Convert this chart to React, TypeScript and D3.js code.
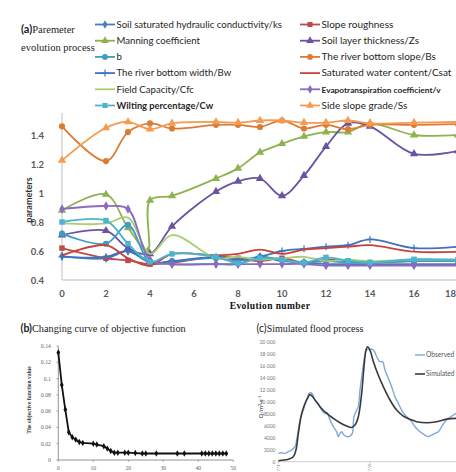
import React from 'react';
import * as d3 from 'd3';

// ---------- (a) parameter evolution ----------
const evolutionSteps = [0, 2, 3, 4, 5, 7, 8, 9, 10, 11, 12, 13, 14, 16, 18];
// the Manning series has one extra sample just before step 4
const manningSteps = [0, 2, 3, 3.9, 4, 5, 7, 8, 9, 10, 11, 12, 13, 14, 16, 18];

const ksValues = [0.565, 0.55, 0.6, 0.53, 0.51, 0.51, 0.51, 0.56, 0.53, 0.52, 0.51, 0.51, 0.51, 0.51, 0.51];
const slopeRoughness = [0.62, 0.55, 0.535, 0.51, 0.52, 0.56, 0.55, 0.53, 0.55, 0.52, 0.54, 0.53, 0.52, 0.53, 0.53];
const manning = [0.88, 0.99, 0.76, 0.6, 0.95, 0.98, 1.1, 1.17, 1.28, 1.34, 1.39, 1.42, 1.42, 1.48, 1.4, 1.4];
const soilThickness = [0.71, 0.74, 0.62, 0.58, 0.77, 1.01, 1.08, 1.1, 0.98, 1.12, 1.32, 1.48, 1.46, 1.27, 1.29];
const bValues = [0.72, 0.65, 0.78, 0.52, 0.53, 0.55, 0.53, 0.56, 0.54, 0.52, 0.53, 0.52, 0.52, 0.53, 0.53];
const riverSlope = [1.46, 1.22, 1.42, 1.48, 1.445, 1.47, 1.47, 1.455, 1.5, 1.445, 1.47, 1.44, 1.47, 1.47, 1.475];
const riverWidth = [0.56, 0.56, 0.6, 0.52, 0.53, 0.56, 0.54, 0.56, 0.6, 0.615, 0.63, 0.64, 0.68, 0.62, 0.63];
const satWater = [0.57, 0.64, 0.55, 0.5, 0.58, 0.57, 0.58, 0.61, 0.58, 0.61, 0.62, 0.63, 0.64, 0.595, 0.595];
const fieldCapacity = [0.79, 0.79, 0.83, 0.58, 0.71, 0.55, 0.56, 0.54, 0.55, 0.56, 0.53, 0.54, 0.53, 0.54, 0.54];
const evapCoef = [0.89, 0.91, 0.89, 0.54, 0.51, 0.51, 0.51, 0.51, 0.51, 0.51, 0.5, 0.5, 0.5, 0.5, 0.5];
const wilting = [0.8, 0.81, 0.65, 0.525, 0.58, 0.56, 0.515, 0.55, 0.54, 0.52, 0.556, 0.533, 0.52, 0.543, 0.54];
const sideSlope = [1.225, 1.45, 1.49, 1.44, 1.48, 1.49, 1.485, 1.5, 1.5, 1.485, 1.485, 1.5, 1.48, 1.485, 1.49];

const paramTicks = [0.4, 0.6, 0.8, 1, 1.2, 1.4];
const stepTicks = [0, 2, 4, 6, 8, 10, 12, 14, 16, 18];

// ---------- (b) objective function ----------
const objIterations = [0, 1, 2, 3, 4, 5, 6, 7, 10, 11, 13, 14, 15, 16, 17, 19, 20, 22, 24, 25, 28, 34, 36, 41, 42, 43, 44, 45, 46, 47, 48];
const objValues = [0.132, 0.092, 0.062, 0.034, 0.028, 0.025, 0.022, 0.021, 0.02, 0.019, 0.017, 0.014, 0.011, 0.009, 0.009, 0.009, 0.009, 0.0085, 0.008, 0.008, 0.008, 0.008, 0.008, 0.008, 0.008, 0.008, 0.008, 0.008, 0.008, 0.008, 0.008];
const objYTicks = [0, 0.02, 0.04, 0.06, 0.08, 0.1, 0.12, 0.14];
const objXTicks = [0, 10, 20, 30, 40, 50];

// ---------- (c) flood hydrograph ----------
const simHours = [0, 7.5, 11.25, 13.25, 15, 17.5, 20, 22.5, 23.75, 25, 27.5, 31.25, 36.25, 41.25, 46.25, 51.25, 55, 57.5, 60, 62.5, 64.25, 65.75, 67, 68.75, 71.25, 75, 78.75, 83.75, 88.75, 93.75, 98.75, 103.75, 111.25, 118.75, 126.25, 133.25];
const simFlow = [170, 390, 830, 1940, 4700, 8000, 9700, 10800, 11200, 11000, 10300, 9170, 8050, 7220, 6500, 5940, 5700, 6100, 7500, 11400, 15800, 18600, 19170, 18600, 16700, 14400, 12500, 10280, 8600, 7600, 7060, 6670, 6500, 6670, 7100, 7220];
const obsHours = [0, 2.5, 5, 7.5, 10, 12.5, 13.75, 15, 16.25, 18.75, 21.25, 23, 24.5, 25.75, 27.5, 30, 32.5, 35, 36.75, 38.25, 41.25, 43.75, 45, 46.25, 47.5, 49.25, 51.25, 53.75, 55.5, 56.75, 58.75, 60, 61.25, 63.25, 65, 66.25, 68.75, 70.75, 72.5, 73.75, 76.25, 78.25, 80, 82.5, 85, 87.5, 90, 92.5, 95, 97.5, 100, 102.5, 106.25, 110, 112.5, 115, 117.5, 120, 122.5, 125, 127.5, 131.25, 133.25];
const obsFlow = [1390, 1500, 1390, 1670, 1940, 2500, 3600, 5280, 6940, 8600, 10280, 11390, 11500, 11200, 10280, 9720, 8600, 8050, 8160, 7220, 5830, 5000, 4170, 4720, 5000, 4440, 4170, 4280, 4720, 7500, 8600, 9170, 11940, 15280, 17780, 18610, 18720, 18720, 18170, 17500, 16670, 16670, 15280, 13890, 12500, 10830, 9720, 8600, 7780, 7220, 6670, 5830, 5000, 4440, 4170, 4440, 4720, 5000, 5830, 6670, 7220, 7780, 8050];
const flowTicks = [0, 2000, 4000, 6000, 8000, 10000, 12000, 14000, 16000, 18000, 20000];
const dateTicks = [{ h: 0, label: '7/1' }, { h: 68.75, label: '7/4' }];

type Marker = 'diamond' | 'square' | 'triangle' | 'circle' | 'plus' | 'none';
interface Series {
  name: string;
  steps: number[];
  values: number[];
  color: string;
  marker: Marker;
  col: number;
  row: number;
  bold?: boolean;
  labelSize?: number;
}

const series: Series[] = [
  { name: 'Soil saturated hydraulic conductivity/ks', steps: evolutionSteps, values: ksValues, color: '#4A7EBB', marker: 'diamond', col: 0, row: 0 },
  { name: 'Slope roughness', steps: evolutionSteps, values: slopeRoughness, color: '#BE4B48', marker: 'square', col: 1, row: 0 },
  { name: 'Manning coefficient', steps: manningSteps, values: manning, color: '#8DB24E', marker: 'triangle', col: 0, row: 1 },
  { name: 'Soil layer thickness/Zs', steps: evolutionSteps, values: soilThickness, color: '#6A53A0', marker: 'triangle', col: 1, row: 1 },
  { name: 'b', steps: evolutionSteps, values: bValues, color: '#3C9DC0', marker: 'circle', col: 0, row: 2 },
  { name: 'The river bottom slope/Bs', steps: evolutionSteps, values: riverSlope, color: '#DB7B34', marker: 'circle', col: 1, row: 2 },
  { name: 'The river bottom width/Bw', steps: evolutionSteps, values: riverWidth, color: '#3D74C0', marker: 'plus', col: 0, row: 3 },
  { name: 'Saturated water content/Csat', steps: evolutionSteps, values: satWater, color: '#C8413C', marker: 'none', col: 1, row: 3 },
  { name: 'Field Capacity/Cfc', steps: evolutionSteps, values: fieldCapacity, color: '#A8CE74', marker: 'none', col: 0, row: 4 },
  { name: 'Evapotranspiration coefficient/v', steps: evolutionSteps, values: evapCoef, color: '#8A6BC0', marker: 'diamond', col: 1, row: 4, bold: true, labelSize: 8.3 },
  { name: 'Wilting percentage/Cw', steps: evolutionSteps, values: wilting, color: '#4BB4D0', marker: 'square', col: 0, row: 5, bold: true, labelSize: 9.3 },
  { name: 'Side slope grade/Ss', steps: evolutionSteps, values: sideSlope, color: '#F59A4E', marker: 'triangle', col: 1, row: 5 },
];

const markerPath = (m: Marker, size: number): string | null => {
  switch (m) {
    case 'diamond':
      return d3.symbol(d3.symbolDiamond, size)();
    case 'square':
      return d3.symbol(d3.symbolSquare, size)();
    case 'triangle':
      return d3.symbol(d3.symbolTriangle, size)();
    case 'circle':
      return d3.symbol(d3.symbolCircle, size)();
    default:
      return null;
  }
};

const MarkerGlyph = ({ m, color, x, y, size }: { m: Marker; color: string; x: number; y: number; size: number }) => {
  if (m === 'none') return null;
  if (m === 'plus') {
    return (
      <g transform={`translate(${x},${y})`} stroke={color} strokeWidth={1.2}>
        <line x1={0} y1={-3.5} x2={0} y2={3.5} />
        <line x1={-3.5} y1={0} x2={3.5} y2={0} />
      </g>
    );
  }
  return <path d={markerPath(m, size) || ''} transform={`translate(${x},${y})`} fill={color} />;
};

export default function App() {
  // panel (a)
  const ax = d3.scaleLinear().domain([0, 18]).range([62, 458]);
  const ay = d3.scaleLinear().domain([0.4, 1.6]).range([280, 106]);
  const smooth = d3
    .line<[number, number]>()
    .x((d) => ax(d[0]))
    .y((d) => ay(d[1]))
    .curve(d3.curveCatmullRom.alpha(0.5));

  // panel (b)
  const bx = d3.scaleLinear().domain([0, 50]).range([58.3, 233.3]);
  const by = d3.scaleLinear().domain([0, 0.14]).range([460, 346]);
  const objLine = d3
    .line<[number, number]>()
    .x((d) => bx(d[0]))
    .y((d) => by(d[1]));

  // panel (c)
  const cx = d3.scaleLinear().domain([0, 133.25]).range([278.3, 456]);
  const cy = d3.scaleLinear().domain([0, 20000]).range([461.7, 341.7]);
  const flowLine = d3
    .line<[number, number]>()
    .x((d) => cx(d[0]))
    .y((d) => cy(d[1]))
    .curve(d3.curveCatmullRom.alpha(0.5));
  const fmtFlow = (v: number) => (v >= 10000 ? d3.format(',')(v).replace(',', ' ') : String(v));

  const serif = '"Liberation Serif", "Times New Roman", serif';
  const sans = 'Lato, "Open Sans", sans-serif';

  return (
    <svg width={456} height={472} style={{ position: 'absolute', left: 0, top: 0, background: '#fff' }}>
      <rect width={456} height={472} fill="#fff" />

      {/* ---------- (a) ---------- */}
      <text x={21} y={32.5} fontFamily={serif} fontSize={10.5} fill="#222">
        <tspan fontFamily={sans} fontWeight={700} fontSize={11}>(a)</tspan>Paremeter
      </text>
      <text x={21} y={50.5} fontFamily={serif} fontSize={10.5} fill="#222">
        evolution process
      </text>

      {/* axes */}
      <line x1={ax(0)} x2={ax(0)} y1={113} y2={ay(0.4)} stroke="#BFBFBF" strokeWidth={1} />
      <line x1={ax(0)} x2={460} y1={ay(0.4)} y2={ay(0.4)} stroke="#BFBFBF" strokeWidth={1} />
      {paramTicks.map((t) => (
        <text key={t} x={44} y={ay(t) + 3.5} textAnchor="end" fontFamily={sans} fontWeight={700} fontSize={9.5} fill="#595959">
          {String(t)}
        </text>
      ))}
      {stepTicks.map((t) => (
        <text
          key={t}
          x={t === 18 ? 456 : ax(t)}
          y={296.5}
          textAnchor={t === 18 ? 'end' : 'middle'}
          fontFamily={sans}
          fontWeight={700}
          fontSize={9.5}
          fill="#595959"
        >
          {t}
        </text>
      ))}
      <text x={270} y={309} textAnchor="middle" fontFamily={serif} fontWeight={700} fontSize={9.5} letterSpacing={0.4} fill="#111">
        Evolution  number
      </text>
      <text transform="translate(32,200) rotate(-90)" textAnchor="middle" fontFamily={sans} fontWeight={700} fontSize={9} fill="#333">
        parameters
      </text>

      {/* series */}
      {series.map((s) => {
        const pts = s.steps.map((x, i) => [x, s.values[i]] as [number, number]);
        return (
          <g key={s.name}>
            <path d={smooth(pts) || ''} fill="none" stroke={s.color} strokeWidth={1.8} />
            {pts.map((p, i) => (
              <MarkerGlyph key={i} m={s.marker} color={s.color} x={ax(p[0])} y={ay(p[1])} size={s.marker === 'diamond' ? 26 : 30} />
            ))}
          </g>
        );
      })}

      {/* legend */}
      {series.map((s) => {
        const lx = s.col === 0 ? 95 : 300;
        const ly = 24.5 + s.row * 16.2;
        return (
          <g key={s.name}>
            <line x1={lx} x2={lx + 20} y1={ly} y2={ly} stroke={s.color} strokeWidth={1.8} />
            <MarkerGlyph m={s.marker} color={s.color} x={lx + 10} y={ly} size={s.marker === 'diamond' ? 22 : 26} />
            <text
              x={lx + 21.5}
              y={ly + 3.3}
              fontFamily={sans}
              fontSize={s.labelSize ?? (s.col === 0 ? 9.6 : 10)}
              fontWeight={s.bold ? 700 : 400}
              fill="#262626"
            >
              {s.name}
            </text>
          </g>
        );
      })}

      {/* ---------- (b) ---------- */}
      <text x={20.5} y={332} fontFamily={serif} fontSize={10.3} fill="#222">
        <tspan fontFamily={sans} fontWeight={700} fontSize={10.5}>(b)</tspan>Changing curve of objective function
      </text>
      <line x1={bx(0)} x2={bx(0)} y1={by(0.14)} y2={by(0)} stroke="#777" strokeWidth={0.8} />
      <line x1={bx(0)} x2={bx(50)} y1={by(0)} y2={by(0)} stroke="#777" strokeWidth={0.8} />
      {objYTicks.map((t) => (
        <g key={t}>
          <line x1={bx(0) - 2} x2={bx(0)} y1={by(t)} y2={by(t)} stroke="#777" strokeWidth={0.6} />
          <text x={51} y={by(t) + 2} textAnchor="end" fontFamily={serif} fontSize={5.8} fill="#666">
            {String(t)}
          </text>
        </g>
      ))}
      {objXTicks.map((t) => (
        <g key={t}>
          <line x1={bx(t)} x2={bx(t)} y1={by(0)} y2={by(0) + 2} stroke="#777" strokeWidth={0.6} />
          <text x={bx(t)} y={470} textAnchor="middle" fontFamily={serif} fontSize={5.8} fill="#666">
            {t}
          </text>
        </g>
      ))}
      <text transform="translate(31,400) rotate(-90)" textAnchor="middle" fontFamily={serif} fontWeight={700} fontSize={5.6} fill="#333">
        The objective function value
      </text>
      <path
        d={objLine(objIterations.map((x, i) => [x, objValues[i]] as [number, number])) || ''}
        fill="none"
        stroke="#111"
        strokeWidth={1.8}
      />
      {objIterations.map((x, i) => (
        <path key={i} d={d3.symbol(d3.symbolDiamond, 12)() || ''} transform={`translate(${bx(x)},${by(objValues[i])})`} fill="#111" />
      ))}

      {/* ---------- (c) ---------- */}
      <text x={256.5} y={332} fontFamily={serif} fontSize={10} fill="#222">
        <tspan fontFamily={sans} fontSize={10.5}>(c)</tspan>Simulated flood process
      </text>
      <line x1={cx(0)} x2={456} y1={cy(0)} y2={cy(0)} stroke="#BFBFBF" strokeWidth={0.8} />
      {flowTicks.map((t) => (
        <text key={t} x={275.5} y={cy(t) + 1.8} textAnchor="end" fontFamily={sans} fontSize={5} fill="#777">
          {fmtFlow(t)}
        </text>
      ))}
      {dateTicks.map((d) => (
        <g key={d.label}>
          <line x1={cx(d.h)} x2={cx(d.h)} y1={cy(0)} y2={cy(0) + 2} stroke="#BFBFBF" strokeWidth={0.8} />
          <text transform={`translate(${cx(d.h) + 1.5},471.5) rotate(-90)`} textAnchor="start" fontFamily={sans} fontSize={4.5} fill="#777">
            {d.label}
          </text>
        </g>
      ))}
      <text transform="translate(263,407) rotate(-90)" textAnchor="middle" fontFamily={sans} fontWeight={700} fontSize={6} fill="#666">
        Q/m<tspan dy={-2} fontSize={4}>3</tspan>
        <tspan dy={2}>·s</tspan>
        <tspan dy={-2} fontSize={4}>-1</tspan>
      </text>
      <path
        d={flowLine(obsHours.map((h, i) => [h, obsFlow[i]] as [number, number])) || ''}
        fill="none"
        stroke="#7FA9DB"
        strokeWidth={1.4}
      />
      <path
        d={flowLine(simHours.map((h, i) => [h, simFlow[i]] as [number, number])) || ''}
        fill="none"
        stroke="#3A3A3A"
        strokeWidth={1.6}
      />
      <line x1={415} x2={425} y1={355} y2={355} stroke="#7FA9DB" strokeWidth={1.4} />
      <text x={426} y={357.3} fontFamily={sans} fontSize={6.6} fill="#555">
        Observed
      </text>
      <line x1={415} x2={425} y1={374} y2={374} stroke="#3A3A3A" strokeWidth={1.6} />
      <text x={426} y={376.3} fontFamily={sans} fontSize={6.6} fill="#555">
        Simulated
      </text>
    </svg>
  );
}
